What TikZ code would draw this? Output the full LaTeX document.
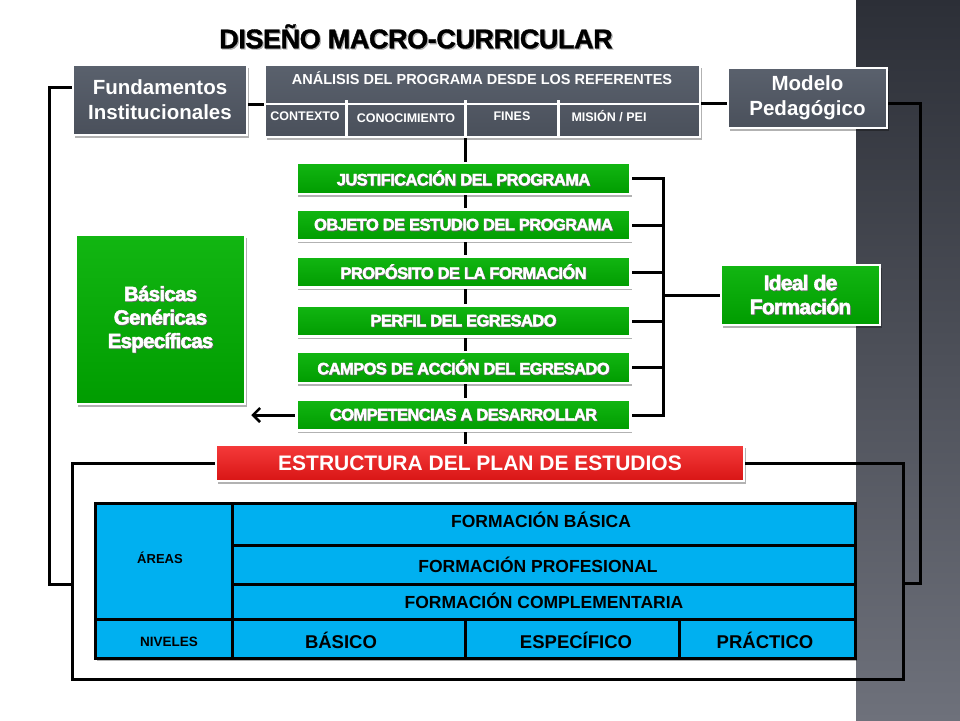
\documentclass[tikz,border=0pt]{standalone}
\usepackage{fontspec}
\setmainfont{Liberation Sans}
\newfontfamily\heavy{Liberation Sans}[FakeBold=2.6, LetterSpace=-3.5]
\newfontfamily\semiheavy{Liberation Sans}[FakeBold=1.4, LetterSpace=-1.5]
\usetikzlibrary{shadows,arrows.meta}
\definecolor{slateT}{HTML}{5A616D}
\definecolor{slateB}{HTML}{4A505B}
\definecolor{greenT}{HTML}{12B612}
\definecolor{greenB}{HTML}{009C00}
\definecolor{redT}{HTML}{F53A3A}
\definecolor{redB}{HTML}{D81515}
\definecolor{tblue}{HTML}{00B0F0}
\definecolor{stripT}{HTML}{2C2F37}
\definecolor{stripB}{HTML}{6E717B}
\newcommand\sht[1]{\leavevmode\rlap{\kern0.8pt\raisebox{-0.8pt}{\color{black!60}#1}}#1}
\newcommand\shg[1]{\leavevmode\rlap{\kern1.2pt\raisebox{-1.2pt}{\color{black!30}#1}}#1}
\pgfdeclarelayer{back}
\pgfdeclarelayer{bg}
\pgfsetlayers{back,bg,main}
\begin{document}
\begin{tikzpicture}[x=1pt,y=-1pt,
  conn/.style={line width=3pt, black, line cap=rect},
  shad/.style={drop shadow={shadow xshift=1.5pt, shadow yshift=-2.5pt, opacity=0.3, fill=black}},
  slate/.style={rectangle, draw=white, line width=2.5pt, top color=slateT, bottom color=slateB, text=white, shad, inner sep=0pt, align=center},
  gbox/.style={rectangle, draw=white, line width=2.5pt, top color=greenT, bottom color=greenB, text=white, shad, inner sep=0pt, align=center},
  gitem/.style={gbox, font=\heavy\bfseries\fontsize{16.5}{18}\selectfont, minimum width=334pt, minimum height=31pt},
  rbox/.style={rectangle, draw=white, line width=2.5pt, top color=redT, bottom color=redB, text=white, shad, inner sep=0pt, align=center},
  sublab/.style={text=white, font=\bfseries\fontsize{12.5}{14}\selectfont, inner sep=1pt},
  tlab/.style={text=black, font=\bfseries\fontsize{17.5}{19}\selectfont, inner sep=1pt},
]
\useasboundingbox (0,0) rectangle (960,720);
\begin{pgfonlayer}{back}
\fill[white] (0,0) rectangle (960,720);
\shade[top color=stripT, bottom color=stripB] (856,0) rectangle (960,720);
\end{pgfonlayer}

% title
\node[font=\semiheavy\bfseries\fontsize{27}{30}\selectfont] (title) at (416,37) {\shg{DISEÑO MACRO-CURRICULAR}};

% top row
\node[slate, minimum width=174pt, minimum height=70pt, font=\bfseries\fontsize{20.5}{25}\selectfont] (fund) at (160,100) {Fundamentos\\Institucionales};
\node[slate, minimum width=435pt, minimum height=72pt] (ana) at (482.5,101) {};
\node[text=white, font=\bfseries\fontsize{14.5}{16}\selectfont] (anat) at (482,78) {ANÁLISIS DEL PROGRAMA DESDE LOS REFERENTES};
\draw[white, line width=2.5pt] (265,104) -- (700,104);
\draw[white, line width=3pt] (346,100) -- (346,137);
\draw[white, line width=3pt] (465,100) -- (465,137);
\draw[white, line width=3pt] (558,100) -- (558,137);
\node[sublab] (ctx) at (305,116) {CONTEXTO};
\node[sublab] (con) at (406,118) {CONOCIMIENTO};
\node[sublab] (fin) at (512,116) {FINES};
\node[sublab] (mis) at (609,116) {MISIÓN / PEI};
\node[slate, minimum width=159pt, minimum height=60pt, font=\bfseries\fontsize{20.5}{25}\selectfont] (mod) at (807.5,98) {Modelo\\Pedagógico};

% green column
\node[gitem] (g1) at (463.5,178.5) {\sht{JUSTIFICACIÓN DEL PROGRAMA}};
\node[gitem] (g2) at (463.5,225) {\sht{OBJETO DE ESTUDIO DEL PROGRAMA}};
\node[gitem] (g3) at (463.5,272) {\sht{PROPÓSITO DE LA FORMACIÓN}};
\node[gitem] (g4) at (463.5,321) {\sht{PERFIL DEL EGRESADO}};
\node[gitem] (g5) at (463.5,367.5) {\sht{CAMPOS DE ACCIÓN DEL EGRESADO}};
\node[gitem] (g6) at (463.5,415) {\sht{COMPETENCIAS A DESARROLLAR}};

\node[gbox, minimum width=159pt, minimum height=60pt, font=\heavy\bfseries\fontsize{21}{24}\selectfont] (ideal) at (800.5,295) {\sht{Ideal de}\\\sht{Formación}};
\node[gbox, minimum width=169pt, minimum height=169pt, font=\heavy\bfseries\fontsize{20.5}{23.5}\selectfont] (big) at (160.5,319.5) {\sht{Básicas}\\\sht{Genéricas}\\\sht{Específicas}};

% red
\node[rbox, minimum width=528pt, minimum height=36pt, font=\bfseries\fontsize{21}{24}\selectfont] (red) at (480,463) {ESTRUCTURA DEL PLAN DE ESTUDIOS};

% table
\filldraw[fill=tblue, draw=black, line width=3pt, shad] (95,503) rectangle (855,658);
\draw[black, line width=3pt] (232,503) -- (232,658);
\draw[black, line width=3pt] (232,545) -- (855,545);
\draw[black, line width=3pt] (232,584) -- (855,584);
\draw[black, line width=3pt] (95,619) -- (855,619);
\draw[black, line width=3pt] (465,619) -- (465,658);
\draw[black, line width=3pt] (679,619) -- (679,658);
\node[tlab, font=\bfseries\fontsize{13}{15}\selectfont] (areas) at (160,558) {ÁREAS};
\node[tlab, font=\bfseries\fontsize{13.5}{15}\selectfont] (niv) at (169,642) {NIVELES};
\node[tlab] (fb) at (541,520) {FORMACIÓN BÁSICA};
\node[tlab] (fp) at (538,565) {FORMACIÓN PROFESIONAL};
\node[tlab] (fc) at (544,601) {FORMACIÓN COMPLEMENTARIA};
\node[tlab, font=\bfseries\fontsize{18.5}{20}\selectfont] (nb) at (341,640) {BÁSICO};
\node[tlab, font=\bfseries\fontsize{18.5}{20}\selectfont] (ne) at (576,640) {ESPECÍFICO};
\node[tlab, font=\bfseries\fontsize{18.5}{20}\selectfont] (np) at (765,640) {PRÁCTICO};

% connectors
\coordinate (spine) at (465,0);
\coordinate (anamid) at (482,104);
\coordinate (m103) at ([yshift=-5pt]mod.west);
\coordinate (f87) at ([yshift=13pt]fund.west);
\coordinate (rbx) at (663,0);
\coordinate (lb) at (49,584);
\coordinate (rb) at (920,583);
\coordinate (fbl) at (72,679);
\coordinate (fbr) at (903,679);
\begin{pgfonlayer}{bg}
\draw[conn] (fund.east |- anamid) -- (ana.west |- anamid);
\draw[conn] (m103 -| ana.east) -- (m103);
\draw[conn] (ana.south -| spine) -- (red.north -| spine);
\draw[conn] (g1.east) -| (rbx |- g6.east) -- (g6.east);
\foreach \g in {g2,g3,g4,g5} \draw[conn] (\g.east) -- (\g.east -| rbx);
\draw[conn] (rbx |- ideal.west) -- (ideal.west);
\draw[line width=3pt, -{Straight Barb[length=7pt, width=14pt, line width=2.5pt]}] (g6.west) -- ([xshift=5pt]g6.west -| big.east);
\draw[conn] (red.west) -| (fbl) -- (fbr) |- (red.east);
\draw[conn] (f87) -| (lb) -- (lb -| fbl);
\draw[conn] (m103 -| mod.east) -| (rb) -- (rb -| fbr);
\end{pgfonlayer}
\end{tikzpicture}
\end{document}
